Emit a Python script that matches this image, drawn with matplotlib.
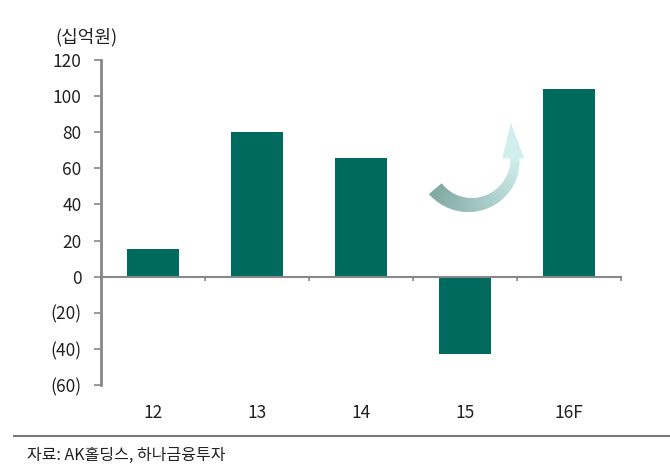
import numpy as np
import matplotlib.pyplot as plt
from matplotlib.patches import Polygon

plt.rcParams['font.family'] = ['Noto Sans CJK KR', 'DejaVu Sans']

categories = ['12', '13', '14', '15', '16F']
values = [15.5, 80, 66, -43, 104]
yticks = [-60, -40, -20, 0, 20, 40, 60, 80, 100, 120]
ytick_labels = ['(60)', '(40)', '(20)', '0', '20', '40', '60', '80', '100', '120']

W, H = 670, 471
fig = plt.figure(figsize=(6.7, 4.71), dpi=100)
ax = fig.add_axes([101 / W, 1 - 385 / H, 520 / W, 325 / H])

x = np.arange(len(categories))
ax.bar(x, values, width=0.5, color='#006A5E', zorder=2)

ax.set_xlim(-0.5, len(categories) - 0.5)
ax.set_ylim(-60, 120)
ax.set_yticks(yticks)
ax.set_yticklabels(ytick_labels, fontsize=12.5, color='#222222')
ax.set_xticks(np.arange(-0.5, len(categories) + 0.5, 1.0))
ax.set_xticklabels([])
ax.tick_params(axis='y', direction='out', length=5, width=1.2, color='#888888', pad=9)
ax.tick_params(axis='x', direction='out', length=3, width=1.2, color='#888888')

for s in ['top', 'right']:
    ax.spines[s].set_visible(False)
ax.spines['left'].set_color('#888888')
ax.spines['left'].set_linewidth(2)
ax.spines['bottom'].set_position(('data', 0))
ax.spines['bottom'].set_color('#888888')
ax.spines['bottom'].set_linewidth(1.5)

for xi, lab in zip(x, categories):
    ax.text(xi, -0.085, lab, transform=ax.get_xaxis_transform(),
            ha='center', va='center', fontsize=12.5, color='#222222')

fig.text(55 / W, 1 - 37 / H, '(십억원)', fontsize=13, color='#222222', va='center')

# overlay in pixel coordinates for the curved arrow and footer
ov = fig.add_axes([0, 0, 1, 1], zorder=5)
ov.set_xlim(0, W)
ov.set_ylim(H, 0)
ov.axis('off')

# curved gradient arrow
cx, cy, r = 470, 160, 45
angs = np.linspace(np.radians(140), np.radians(-5), 60)  # screen coords, y down
widths = np.linspace(16, 8, 60)
c0 = np.array([0.50, 0.66, 0.64])
c1 = np.array([0.82, 0.94, 0.93])
for i in range(len(angs) - 1):
    a0, a1 = angs[i], angs[i + 1]
    w0, w1 = widths[i], widths[i + 1]
    pts = [
        (cx + (r - w0 / 2) * np.cos(a0), cy + (r - w0 / 2) * np.sin(a0)),
        (cx + (r + w0 / 2) * np.cos(a0), cy + (r + w0 / 2) * np.sin(a0)),
        (cx + (r + w1 / 2) * np.cos(a1), cy + (r + w1 / 2) * np.sin(a1)),
        (cx + (r - w1 / 2) * np.cos(a1), cy + (r - w1 / 2) * np.sin(a1)),
    ]
    t = i / (len(angs) - 2)
    col = c0 * (1 - t) + c1 * t
    ov.add_patch(Polygon(pts, closed=True, facecolor=col, edgecolor=col, lw=0.5))
# arrow head
ea = angs[-1]
ex, ey = cx + r * np.cos(ea), cy + r * np.sin(ea)
head = [(ex - 12, ey + 2), (ex + 9, ey + 2), (ex - 4, ey - 32)]
ov.add_patch(Polygon(head, closed=True, facecolor=c1, edgecolor=c1, lw=0.5))

ov.plot([14, W], [436, 436], color='#777777', lw=1.5)
ov.text(27, 455, '자료: AK홀딩스, 하나금융투자', fontsize=11.5, color='#222222', va='center')

plt.savefig('out.png', dpi=100)
